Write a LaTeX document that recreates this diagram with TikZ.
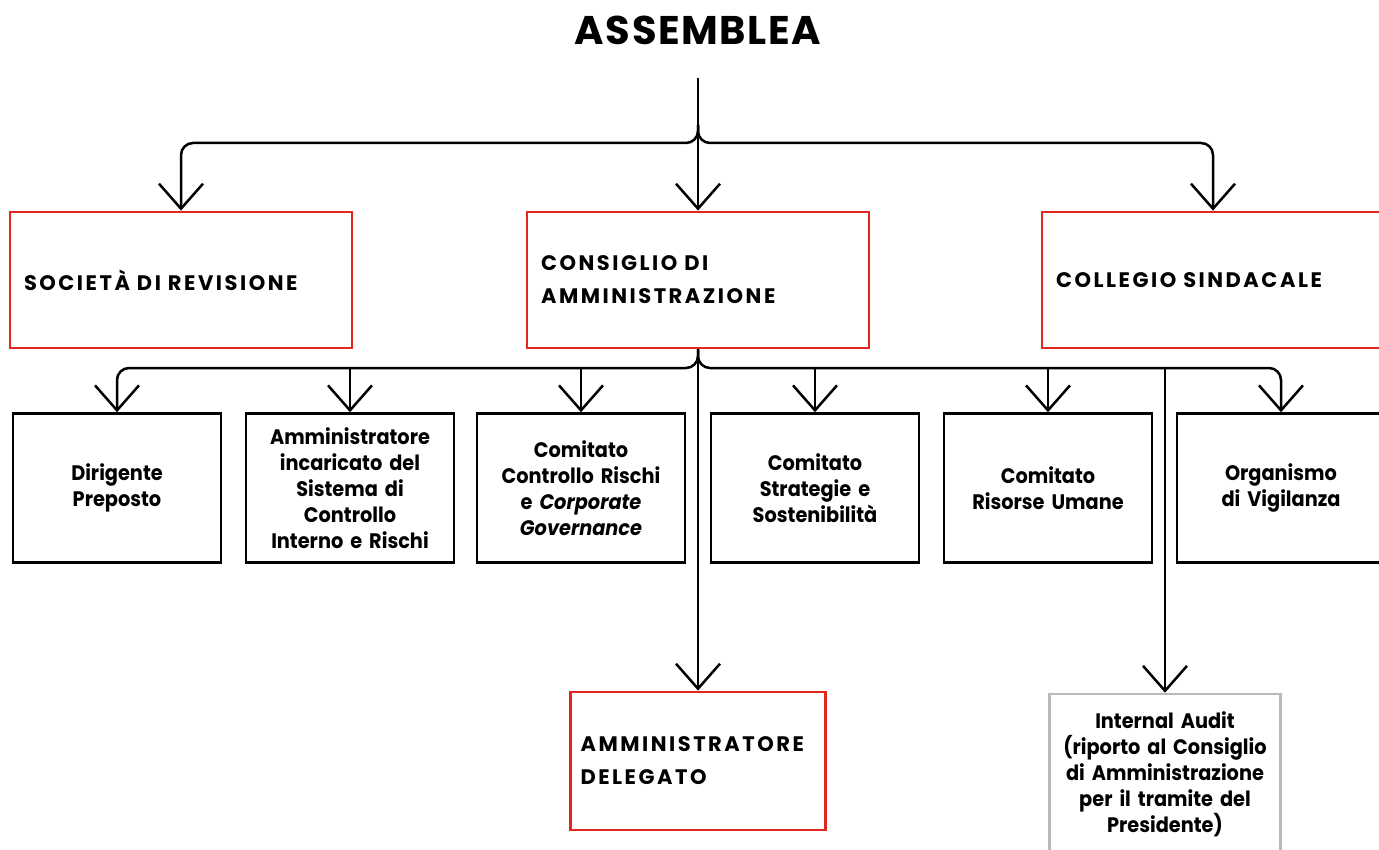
\documentclass[tikz,border=0pt]{standalone}
\usepackage{fontspec}
\usepackage{tikz}
\usetikzlibrary{arrows.meta, positioning}
\newfontfamily\titlefont[LetterSpace=4]{Poppins}
\newfontfamily\capsfont[LetterSpace=12]{Poppins}
\newfontfamily\boxfont[FakeStretch=0.92]{Poppins}
\newcommand{\maiuscolo}{\capsfont\bfseries\fontsize{21}{33}\selectfont\spaceskip 11pt plus 2pt\relax}
\definecolor{rossocda}{HTML}{E2271D}
\definecolor{grigio}{HTML}{B9B9B9}
\tikzstyle{rosso} = [rectangle, draw = rossocda, line width = 2.8pt, minimum width = 342pt, minimum height = 136pt, text width = 314pt, inner xsep = 14pt, align = left, font = \maiuscolo]
\tikzstyle{nero} = [rectangle, draw = black, line width = 2.5pt, minimum width = 208pt, minimum height = 149pt, text width = 198pt, inner xsep = 5pt, align = center, font = \boxfont\bfseries\fontsize{21}{26}\selectfont]
\tikzstyle{freccia} = [line width = 2.5pt, -{Straight Barb[length=25pt, width=44pt]}]

\begin{document}
\begin{tikzpicture}[x=1pt, y=-1pt]
\useasboundingbox (0,0) rectangle (1379,850);
\node (ass) at (698,30) {\titlefont\bfseries\fontsize{40}{40}\selectfont ASSEMBLEA};
\node (soc) [rosso] at (181,280) {SOCIETÀ DI REVISIONE};
\node (cda) [rosso] at (698,280) {CONSIGLIO DI\\AMMINISTRAZIONE};
\node (col) [rosso] at (1213,280) {COLLEGIO SINDACALE};
\node (dir) [nero] at (117,488) {Dirigente\\Preposto};
\node (aic) [nero] at (350,488) {Amministratore\\incaricato del\\Sistema di\\Controllo\\Interno e Rischi};
\node (ccr) [nero] at (581,488) {Comitato\\Controllo Rischi\\e \textit{Corporate}\\\textit{Governance}};
\node (css) [nero] at (815,488) {Comitato\\Strategie e\\Sostenibilità};
\node (cru) [nero] at (1048,488) {Comitato\\Risorse Umane};
\node (odv) [nero] at (1281,488) {Organismo\\di Vigilanza};
\node (ad) [rosso, minimum width = 255pt, text width = 235pt, inner xsep = 10pt, minimum height = 138pt] at (698,761) {AMMINISTRATORE\\DELEGATO};
\node (ia) [nero, draw = grigio, minimum width = 231pt, text width = 221pt, minimum height = 160pt] at (1165,774) {Internal Audit\\(riporto al Consiglio\\di Amministrazione\\per il tramite del\\Presidente)};
\coordinate (top) at (698,78);
\coordinate (nodo) at (698,125);
\coordinate (riga) at (0,368);
\draw[freccia] (top) -- (cda);
\draw[freccia, rounded corners = 12pt] (nodo) -- ++(0,18) -| (soc.north);
\draw[freccia, rounded corners = 12pt] (nodo) -- ++(0,18) -| (col.north);
\draw[freccia, rounded corners = 12pt] (cda.south) -- (cda.south |- riga) -| (dir.north);
\draw[freccia, rounded corners = 12pt] (cda.south) -- (cda.south |- riga) -| (odv.north);
\foreach \n in {aic, ccr, css, cru}
  \draw[freccia] (\n.north |- riga) -- (\n.north);
\draw[freccia] (cda.south) -- (ad.north);
\draw[freccia] (ia.north |- riga) -- (ia.north);
\end{tikzpicture}
\end{document}
